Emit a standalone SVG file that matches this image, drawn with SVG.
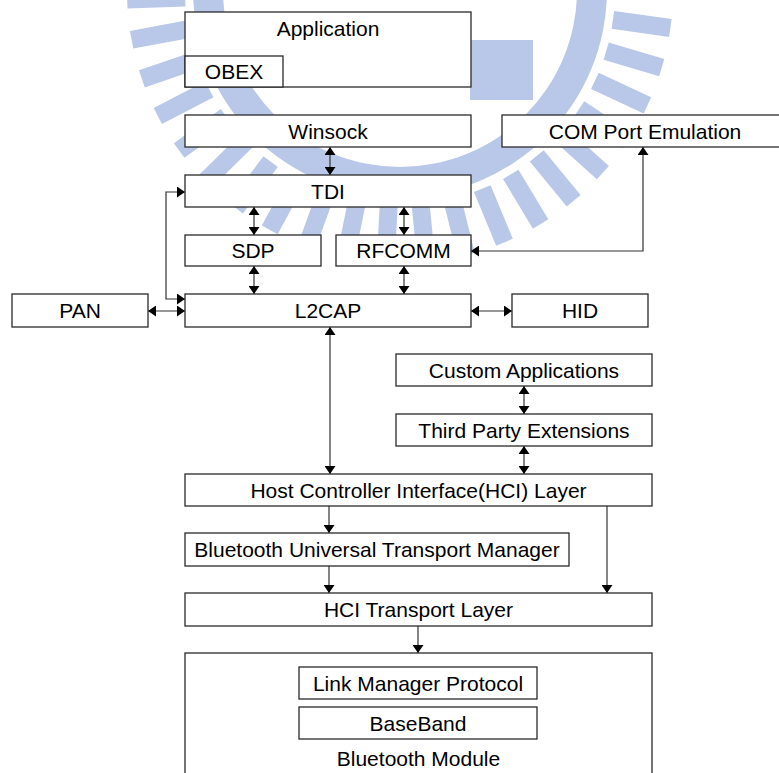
<svg xmlns="http://www.w3.org/2000/svg" xmlns:xlink="http://www.w3.org/1999/xlink" width="779" height="773" viewBox="0 0 779 773">
<style>
  .box { fill: #ffffff; stroke: #2a2a2a; stroke-width: 1.3; }
  .lbl { font-family: "Liberation Sans", Arial, sans-serif; font-size: 21px; fill: #000000; text-anchor: middle; }
  .wire { fill: none; stroke: #333333; stroke-width: 1.2; }
  .both { marker-start: url(#arr); marker-end: url(#arr); }
  .one { marker-end: url(#arr); }
  .wm { fill: #b9c8e9; }
</style>
<defs>
  <marker id="arr" viewBox="0 0 8 11" refX="8" refY="5.5" markerWidth="8" markerHeight="11" markerUnits="userSpaceOnUse" orient="auto-start-reverse">
    <path d="M0,0 L8,5.5 L0,11 z" fill="#000000"/>
  </marker>
  <rect id="ray" x="215" y="-9" width="58" height="18"/>
</defs>
<rect x="0" y="0" width="779" height="773" fill="#ffffff"/>

<g id="watermark" class="wm">
  <path d="M 223 -10 A 177 177 0 0 0 577 -10 L 607 -10 A 207 207 0 0 1 193 -10 Z"/>
  <g transform="translate(400,-10)">
    <use xlink:href="#ray" transform="rotate(-0.5)"/>
    <use xlink:href="#ray" transform="rotate(8)"/>
    <use xlink:href="#ray" transform="rotate(16.5)"/>
    <use xlink:href="#ray" transform="rotate(25)"/>
    <use xlink:href="#ray" transform="rotate(33.5)"/>
    <use xlink:href="#ray" transform="rotate(42)"/>
    <use xlink:href="#ray" transform="rotate(50.5)"/>
    <use xlink:href="#ray" transform="rotate(59)"/>
    <use xlink:href="#ray" transform="rotate(67.5)"/>
    <use xlink:href="#ray" transform="rotate(76)"/>
    <use xlink:href="#ray" transform="rotate(84.5)"/>
    <use xlink:href="#ray" transform="rotate(93)"/>
    <use xlink:href="#ray" transform="rotate(101.5)"/>
    <use xlink:href="#ray" transform="rotate(110)"/>
    <use xlink:href="#ray" transform="rotate(118.5)"/>
    <use xlink:href="#ray" transform="rotate(127)"/>
    <use xlink:href="#ray" transform="rotate(135.5)"/>
    <use xlink:href="#ray" transform="rotate(144)"/>
    <use xlink:href="#ray" transform="rotate(152.5)"/>
    <use xlink:href="#ray" transform="rotate(161)"/>
    <use xlink:href="#ray" transform="rotate(169.5)"/>
    <use xlink:href="#ray" transform="rotate(178)"/>
    <use xlink:href="#ray" transform="rotate(186.5)"/>
  </g>
  <rect x="470" y="40" width="63" height="60"/>
</g>

<g id="connectors">
  <path class="wire both" d="M330,147 V175"/>
  <path class="wire both" d="M254,207 V235"/>
  <path class="wire both" d="M404,207 V235"/>
  <path class="wire both" d="M254,266 V294"/>
  <path class="wire both" d="M404,266 V294"/>
  <path class="wire both" d="M643,147 V251 H471"/>
  <path class="wire both" d="M185,192 H166 V299 H185"/>
  <path class="wire both" d="M148,311 H185"/>
  <path class="wire both" d="M471,311 H512"/>
  <path class="wire both" d="M330,327 V474"/>
  <path class="wire both" d="M524,386 V414"/>
  <path class="wire both" d="M524,446 V474"/>
  <path class="wire one" d="M329,506 V533"/>
  <path class="wire one" d="M329,566 V593"/>
  <path class="wire one" d="M607,506 V593"/>
  <path class="wire one" d="M418,626 V653"/>
</g>

<g id="application">
  <rect class="box" x="185" y="12" width="286" height="75"/>
  <text class="lbl" x="328" y="36">Application</text>
</g>
<g id="obex">
  <rect class="box" x="185" y="56" width="98" height="31"/>
  <text class="lbl" x="234" y="79">OBEX</text>
</g>
<g id="winsock">
  <rect class="box" x="185" y="115" width="286" height="32"/>
  <text class="lbl" x="328" y="138.5">Winsock</text>
</g>
<g id="comport">
  <rect class="box" x="502" y="115" width="290" height="32"/>
  <text class="lbl" x="645" y="138.5">COM Port Emulation</text>
</g>
<g id="tdi">
  <rect class="box" x="185" y="175" width="286" height="32"/>
  <text class="lbl" x="328" y="198.5">TDI</text>
</g>
<g id="sdp">
  <rect class="box" x="185" y="235" width="136" height="31"/>
  <text class="lbl" x="253" y="258">SDP</text>
</g>
<g id="rfcomm">
  <rect class="box" x="336" y="235" width="135" height="31"/>
  <text class="lbl" x="403.5" y="258">RFCOMM</text>
</g>
<g id="pan">
  <rect class="box" x="12" y="294" width="136" height="33"/>
  <text class="lbl" x="80" y="318">PAN</text>
</g>
<g id="l2cap">
  <rect class="box" x="185" y="294" width="286" height="33"/>
  <text class="lbl" x="328" y="318">L2CAP</text>
</g>
<g id="hid">
  <rect class="box" x="512" y="294" width="136" height="33"/>
  <text class="lbl" x="580" y="318">HID</text>
</g>
<g id="custom">
  <rect class="box" x="396" y="354" width="256" height="32"/>
  <text class="lbl" x="524" y="377.5">Custom Applications</text>
</g>
<g id="thirdparty">
  <rect class="box" x="396" y="414" width="256" height="32"/>
  <text class="lbl" x="524" y="437.5">Third Party Extensions</text>
</g>
<g id="hci">
  <rect class="box" x="185" y="474" width="467" height="32"/>
  <text class="lbl" x="418.5" y="497.5">Host Controller Interface(HCI) Layer</text>
</g>
<g id="butm">
  <rect class="box" x="185" y="533" width="384" height="33"/>
  <text class="lbl" x="377" y="557">Bluetooth Universal Transport Manager</text>
</g>
<g id="hcitransport">
  <rect class="box" x="185" y="593" width="467" height="33"/>
  <text class="lbl" x="418.5" y="617">HCI Transport Layer</text>
</g>
<g id="btmodule">
  <rect class="box" x="185" y="653" width="467" height="140"/>
  <text class="lbl" x="418.5" y="766">Bluetooth Module</text>
</g>
<g id="lmp">
  <rect class="box" x="299" y="667" width="238" height="32"/>
  <text class="lbl" x="418" y="690.5">Link Manager Protocol</text>
</g>
<g id="baseband">
  <rect class="box" x="299" y="707" width="238" height="32"/>
  <text class="lbl" x="418" y="730.5">BaseBand</text>
</g>
</svg>
